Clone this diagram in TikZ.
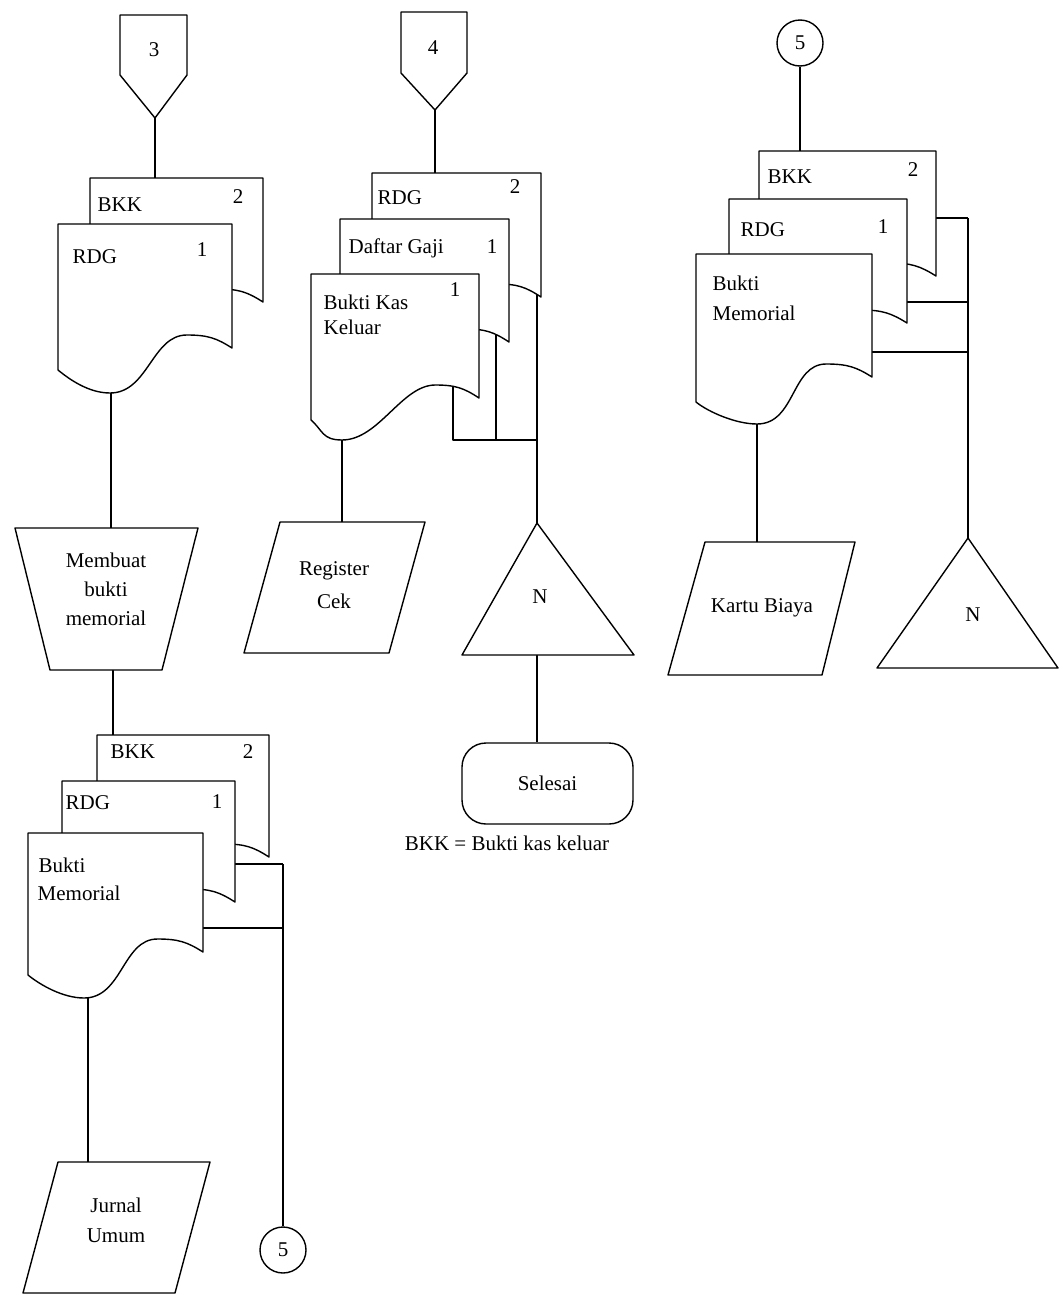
\documentclass[tikz,border=0pt]{standalone}
\usepackage{fontspec}
\setmainfont{Liberation Serif}
\usetikzlibrary{shapes.geometric}
% front document with a wavy bottom: L R T Ly Ry lowx lowy
\newcommand\fdoc[7]{%
  \pgfmathsetmacro\dW{#2-#1}%
  \pgfmathsetmacro\pkx{#2-0.26*\dW}%
  \pgfmathsetmacro\pky{#5-13}%
  \path[docst] (#1,#3) -- (#2,#3) -- (#2,#5)
    .. controls ({#2-0.09*\dW},{#5-10}) and ({\pkx+0.12*\dW},\pky) .. (\pkx,\pky)
    .. controls ({\pkx-0.2*\dW},\pky) and ({#6+0.22*\dW},#7) .. (#6,#7)
    .. controls ({#6-0.12*\dW},#7) and ({#1+0.07*\dW},{#4+10}) .. (#1,#4) -- cycle;}
\begin{document}
\begin{tikzpicture}[x=1pt,y=-1pt,
  line width=1.4pt, line join=round,
  every node/.style={font=\fontsize{21}{25}\selectfont, inner sep=0pt},
  lbl/.style={anchor=west},
  docst/.style={draw, fill=white},
  shp/.style={draw, fill=white},
  conn/.style={draw},
  circ/.style={draw, circle, minimum size=46pt, fill=white},
]
\useasboundingbox (0,0) rectangle (1059,1296);
\clip (0,0) rectangle (1059,1296);

% ---------- coordinates (connection points) ----------
% column 1
\coordinate (p1) at (155,118);
\coordinate (d1top) at (155,178);
\coordinate (d1bot) at (111,385);
\coordinate (tz1top) at (111,528);
\coordinate (tz1bot) at (113,670);
\coordinate (d3top) at (113,735);
\coordinate (d3bot) at (88,990);
\coordinate (ju1top) at (88,1162);
\coordinate (r3a) at (235,864);
\coordinate (j3a) at (283,864);
\coordinate (r3b) at (203,928);
\coordinate (j3b) at (283,928);
% column 2
\coordinate (p2) at (435,110);
\coordinate (d2top) at (435,173);
\coordinate (d2bot) at (342,432);
\coordinate (rc1top) at (342,522);
\coordinate (v2a) at (453,380);
\coordinate (h2a) at (453,440);
\coordinate (v2b) at (496,330);
\coordinate (h2b) at (496,440);
\coordinate (v2c) at (537,285);
\coordinate (h2c) at (537,440);
\coordinate (tr2top) at (537,523);
\coordinate (tr2bot) at (537,655);
% column 3
\coordinate (d4top) at (800,151);
\coordinate (d4bot) at (757,418);
\coordinate (kb1top) at (757,542);
\coordinate (r4a) at (936,218);
\coordinate (j4a) at (968,218);
\coordinate (r4b) at (907,302);
\coordinate (j4b) at (968,302);
\coordinate (r4c) at (872,352);
\coordinate (j4c) at (968,352);
\coordinate (tr3top) at (968,538);

% ---------- nodes ----------
\node[circ] (c5b) at (283,1250) {5};
\node[circ] (c5t) at (800,43) {5};
\node[draw, rounded corners=24pt, minimum width=171pt, minimum height=81pt] (sel) at (547.5,783.5) {Selesai};

% ---------- connectors ----------
\draw[conn] (p1) -- (d1top);
\draw[conn] (d1bot) -- (tz1top);
\draw[conn] (tz1bot) -- (d3top);
\draw[conn] (d3bot) -- (ju1top);
\draw[conn] (r3a) -- (j3a);
\draw[conn] (r3b) -- (j3b);
\draw[conn] (j3a) -- (c5b.north);
\draw[conn] (p2) -- (d2top);
\draw[conn] (d2bot) -- (rc1top);
\draw[conn] (v2a) -- (h2a) -- (h2c);
\draw[conn] (v2b) -- (h2b);
\draw[conn] (v2c) -- (tr2top);
\draw[conn] (tr2bot) -- (tr2bot |- sel.north);
\draw[conn] (c5t.south) -- (d4top);
\draw[conn] (d4bot) -- (kb1top);
\draw[conn] (r4a) -- (j4a);
\draw[conn] (r4b) -- (j4b);
\draw[conn] (r4c) -- (j4c);
\draw[conn] (j4a) -- (tr3top);

% ---------- column 1 ----------
\path[shp] (120,15) -- (187,15) -- (187,75) -- (p1) -- (120,75) -- cycle;
\node (p1lab) at (154,50) {3};
\fdoc{90}{263}{178}{324}{302}{137}{344}
\fdoc{58}{232}{224}{370}{348}{110}{393}
\node[lbl] (t1a) at (97,205) {BKK};
\node (n1a) at (238,197) {2};
\node[lbl] (t1b) at (72,257) {RDG};
\node (n1b) at (202,250) {1};

\path[shp] (15,528) -- (198,528) -- (162,670) -- (50,670) -- cycle;
\node[align=center, font=\fontsize{21}{29}\selectfont] (tz1) at (106,589) {Membuat\\bukti\\memorial};

\fdoc{97}{269}{735}{879}{857}{143}{899}
\fdoc{62}{235}{781}{924}{902}{108}{944}
\fdoc{28}{203}{833}{975}{952}{84}{998}
\node[lbl] (t3a) at (110,752) {BKK};
\node (n3a) at (248,752) {2};
\node[lbl] (t3b) at (65,803) {RDG};
\node (n3b) at (217,802) {1};
\node[lbl] (t3c) at (38,865) {Bukti};
\node[lbl] (t3d) at (37,893) {Memorial};

\path[shp] (58,1162) -- (210,1162) -- (175,1293) -- (23,1293) -- cycle;
\node[align=center, font=\fontsize{21}{30}\selectfont] (ju1) at (116,1220) {Jurnal\\Umum};

% ---------- column 2 ----------
\path[shp] (401,12) -- (467,12) -- (467,73) -- (p2) -- (401,73) -- cycle;
\node (p2lab) at (433,48) {4};
\fdoc{372}{541}{173}{319}{297}{418}{339}
\fdoc{340}{509}{219}{364}{342}{386}{384}
\fdoc{311}{479}{274}{420}{398}{342}{440}
\node[lbl] (t2a) at (377,198) {RDG};
\node (n2a) at (515,187) {2};
\node[lbl] (t2b) at (348,248) {Daftar Gaji};
\node (n2b) at (492,247) {1};
\node[lbl] (t2c) at (323,302) {Bukti Kas};
\node[lbl] (t2d) at (323,327) {Keluar};
\node (n2c) at (455,290) {1};

\path[shp] (280,522) -- (425,522) -- (389,653) -- (244,653) -- cycle;
\node[align=center, font=\fontsize{21}{33}\selectfont] (rc1) at (334,585) {Register\\Cek};

\path[shp] (tr2top) -- (634,655) -- (462,655) -- cycle;
\node (tr2) at (540,597) {N};

% ---------- column 3 ----------
\fdoc{759}{936}{151}{298}{276}{807}{318}
\fdoc{729}{907}{199}{345}{323}{777}{365}
\fdoc{696}{872}{254}{402}{377}{757}{424}
\node[lbl] (t4a) at (767,177) {BKK};
\node (n4a) at (913,170) {2};
\node[lbl] (t4b) at (740,230) {RDG};
\node (n4b) at (883,227) {1};
\node[lbl] (t4c) at (712,283) {Bukti};
\node[lbl] (t4d) at (712,313) {Memorial};

\path[shp] (705,542) -- (855,542) -- (822,675) -- (668,675) -- cycle;
\node (kb1) at (762,608) {Kartu Biaya};

\path[shp] (tr3top) -- (1058,668) -- (877,668) -- cycle;
\node (tr3) at (973,615) {N};

% ---------- legend ----------
\node (leg) at (507,843) {BKK = Bukti kas keluar};
\end{tikzpicture}
\end{document}
